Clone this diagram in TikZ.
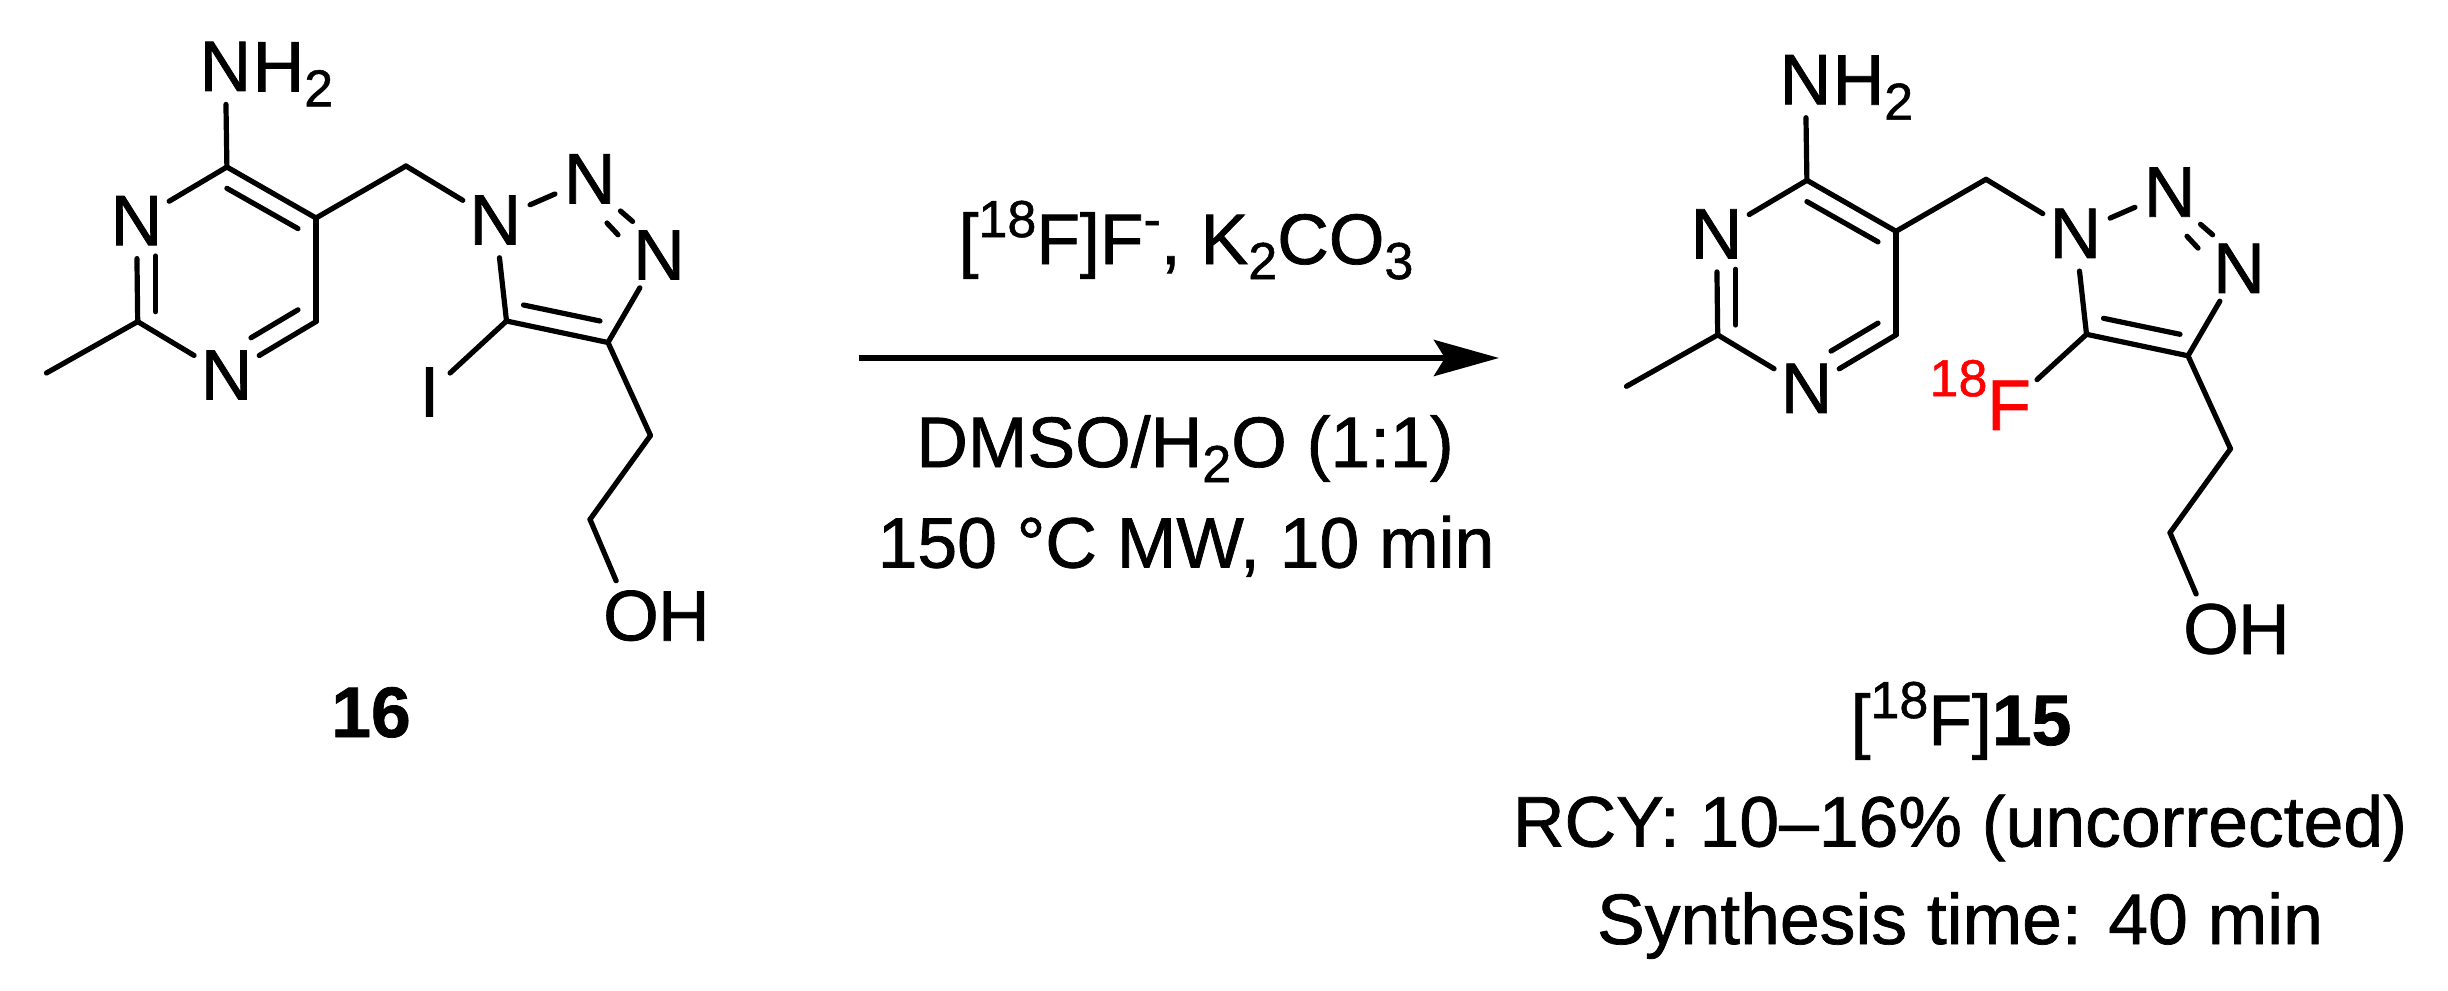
\documentclass[tikz,border=0pt]{standalone}
\usepackage{fontspec}
\setmainfont[RawFeature={embolden=1.0}]{Liberation Sans}
\usetikzlibrary{arrows.meta}
\newcommand{\bigfont}{\fontsize{71.5}{71.5}\selectfont}
\newcommand{\smfont}{\fontsize{52}{52}\selectfont}
\newcommand{\sps}[1]{\raisebox{27pt}{\smfont #1}}
\newcommand{\sbs}[1]{\raisebox{-15pt}{\smfont #1}}
\tikzset{
  atom/.style={circle,inner sep=0pt,outer sep=0pt,minimum size=76pt,font=\bigfont},
  smallatom/.style={atom,minimum size=56pt},
  atomtail/.style={inner sep=0pt,outer sep=0pt,font=\bigfont,anchor=base west},
  bond/.style={line width=5.2pt,line cap=round,line join=round},
  caption/.style={inner sep=0pt,outer sep=0pt,font=\bigfont,anchor=base},
  rxnarrow/.style={line width=6pt,-{Stealth[length=65pt,width=36pt,inset=11pt]}}
}
\newcommand{\molecule}{%
  % pyrimidine
  \coordinate (C4) at (226.9,167);
  \coordinate (C5) at (316,218);
  \coordinate (C6) at (316,321.6);
  \coordinate (C2) at (137.7,321.6);
  \coordinate (Me) at (46.5,373);
  \node[atom] (N1) at (226.6,375) {N};
  \node[atom] (N3) at (136.5,220.6) {N};
  \node[atom] (Nam) at (225.4,66.4) {N};
  \node[atomtail] (Ham) at (252.6,91.4) {H\sbs{2}};
  % linker and triazole
  \coordinate (CH) at (406,166);
  \node[atom] (Nt1) at (495.3,220) {N};
  \node[atom] (Nt2) at (589.7,178.8) {N};
  \node[atom] (Nt3) at (659,255) {N};
  \coordinate (Ct4) at (608,342.5);
  \coordinate (Ct5) at (506.5,321);
  % side chain
  \coordinate (Ca) at (650.5,435.5);
  \coordinate (Cb) at (590,519.4);
  \node[atom] (O) at (631,615.7) {O};
  \node[atomtail] (Hy) at (658,640.7) {H};
  % inner lines of double bonds
  \coordinate (d1a) at (226.9,188.3); \coordinate (d1b) at (298,228.6);
  \coordinate (d2a) at (155.6,256);   \coordinate (d2b) at (155.6,311.7);
  \coordinate (d3a) at (298,309.8);   \coordinate (d3b) at (251,337.8);
  \coordinate (d4a) at (523.5,305);   \coordinate (d4b) at (600,321);
  \coordinate (d5a) at (620.5,211);   \coordinate (d5b) at (632.6,221.5);
  \coordinate (d6a) at (607,223);     \coordinate (d6b) at (618,234.8);
  \draw[bond] (C4) -- (Nam);
  \draw[bond] (N3) -- (C4);
  \draw[bond] (C4) -- (C5);
  \draw[bond] (d1a) -- (d1b);
  \draw[bond] (C5) -- (C6);
  \draw[bond] (C6) -- (N1);
  \draw[bond] (d3a) -- (d3b);
  \draw[bond] (N1) -- (C2);
  \draw[bond] (C2) -- (N3);
  \draw[bond] (d2a) -- (d2b);
  \draw[bond] (C2) -- (Me);
  \draw[bond] (C5) -- (CH);
  \draw[bond] (CH) -- (Nt1);
  \draw[bond] (Nt1) -- (Nt2);
  \draw[bond] (d5a) -- (d5b);
  \draw[bond] (d6a) -- (d6b);
  \draw[bond] (Nt3) -- (Ct4);
  \draw[bond] (Ct4) -- (Ct5);
  \draw[bond] (d4a) -- (d4b);
  \draw[bond] (Ct5) -- (Nt1);
  \draw[bond] (Ct4) -- (Ca);
  \draw[bond] (Ca) -- (Cb);
  \draw[bond] (Cb) -- (O);
}
\begin{document}
\begin{tikzpicture}[x=1pt,y=-1pt]
  \useasboundingbox (0,0) rectangle (2448,990);
  % reactant
  \begin{scope}[name prefix=a-]
    \molecule
    \node[smallatom] (X) at (429.5,392) {I};
    \draw[bond] (Ct5) -- (X);
  \end{scope}
  \node[caption,font=\bigfont\bfseries] (lab16) at (371,737) {16};
  % product
  \begin{scope}[shift={(1580,13.3)},name prefix=b-]
    \molecule
    \node[atom,text=red] (X) at (429,392) {F};
    \node[inner sep=0pt,outer sep=0pt,font=\smfont,text=red] (Xs) at (378.5,365) {18};
    \draw[bond] (Ct5) -- (X);
  \end{scope}
  % arrow and conditions
  \coordinate (arrS) at (859,358);
  \coordinate (arrE) at (1499,358);
  \draw[rxnarrow] (arrS) -- (arrE);
  \node[caption] (c1) at (1186,264) {[\sps{18}F]F\sps{-}, K\sbs{2}CO\sbs{3}};
  \node[caption] (c2) at (1185,467) {DMSO/H\sbs{2}O (1:1)};
  \node[caption] (c3) at (1186,567.6) {150 °C MW, 10 min};
  % product captions
  \node[caption] (p1) at (1961,745) {[\sps{18}F]\textbf{15}};
  \node[caption] (p2) at (1960,846.5) {RCY: 10–16\% (uncorrected)};
  \node[caption] (p3) at (1960,944) {Synthesis time: 40 min};
\end{tikzpicture}
\end{document}
